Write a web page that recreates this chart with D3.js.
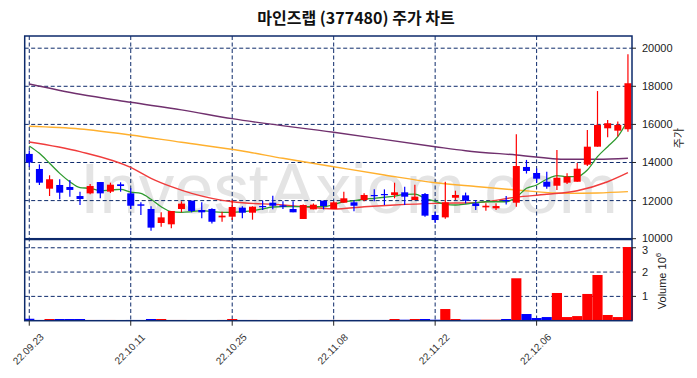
<!DOCTYPE html>
<html>
<head>
<meta charset="utf-8">
<script src="https://cdn.jsdelivr.net/npm/d3@7"></script>
<style>
  body { margin: 0; background: #fff; }
  svg { display: block; }
</style>
</head>
<body>
<div id="chart"></div>
<script>
// Trading days shown (22.09.23 ~ 22.12.19)
const dates = ['22.09.23','22.09.26','22.09.27','22.09.28','22.09.29','22.09.30','22.10.04','22.10.05','22.10.06','22.10.07',
  '22.10.11','22.10.12','22.10.13','22.10.14','22.10.17','22.10.18','22.10.19','22.10.20','22.10.21','22.10.24',
  '22.10.25','22.10.26','22.10.27','22.10.28','22.10.31','22.11.01','22.11.02','22.11.03','22.11.04','22.11.07',
  '22.11.08','22.11.09','22.11.10','22.11.11','22.11.14','22.11.15','22.11.16','22.11.17','22.11.18','22.11.21',
  '22.11.22','22.11.23','22.11.24','22.11.25','22.11.28','22.11.29','22.11.30','22.12.01','22.12.02','22.12.05',
  '22.12.06','22.12.07','22.12.08','22.12.09','22.12.12','22.12.13','22.12.14','22.12.15','22.12.16','22.12.19'];

const open  = [14450,13660,12625,12820,12715,12240,12380,12975,12470,12855,
  12380,11805,11560,10825,10755,11560,11995,11505,11560,11120,
  11155,11630,11365,11715,11890,11750,11560,11035,11540,11995,
  11560,11890,11910,12030,12295,12345,12295,12435,12030,12345,
  11245,11120,12150,12275,11855,11645,11595,12030,11890,13765,
  13450,12990,12780,12940,12990,13885,14830,15795,15670,15745];
const high  = [14620,13900,13330,13120,13080,12470,12870,12975,12940,12960,
  12650,11910,11700,11385,11455,11960,11995,11910,11600,11420,
  12015,11700,11700,11995,12260,11960,11960,11800,11850,11995,
  11960,12470,12030,12380,12590,12590,12940,12730,12835,12400,
  11420,12990,12520,12420,12030,11855,11855,12240,15480,14135,
  13690,13520,14660,13430,13970,15710,17750,16235,16150,19680];
const low   = [13780,12820,12240,12070,12200,11770,12330,12120,12400,12470,
  11560,11245,10420,10630,10545,11385,11385,11070,10800,10890,
  10980,11070,11000,11505,11540,11560,11385,11035,11540,11540,
  11560,11890,11440,11960,11960,11770,12120,11770,12030,11155,
  10820,11050,12030,11850,11505,11470,11500,11800,11680,13420,
  12940,12625,12560,12870,12990,13815,14830,15320,15370,15620];
const close = [14000,12940,13120,12415,12560,12085,12765,12380,12835,12765,
  11730,11730,10580,11120,11455,11840,11455,11385,10890,11210,
  11665,11365,11680,11665,11730,11680,11385,11770,11785,11715,
  11910,12120,11730,12295,12240,12295,12435,12205,12205,11210,
  10980,11910,12295,11995,11715,11730,11715,11980,13815,13555,
  13150,12730,13200,13255,13675,14830,15970,16060,15970,18160];
const volume = [80000,30000,70000,70000,70000,70000,30000,30000,30000,20000,
  30000,30000,70000,70000,30000,30000,20000,20000,20000,30000,
  70000,30000,30000,20000,20000,20000,20000,30000,30000,30000,
  30000,30000,30000,30000,30000,30000,70000,40000,70000,70000,
  40000,480000,70000,40000,40000,40000,40000,70000,1745000,275000,
  110000,150000,1140000,150000,190000,1100000,1880000,235000,150000,3030000];

// moving averages
const ma5 = [14870,14480,13960,13430,12990,12680,12645,12520,12555,12590,
  12450,12380,12070,11680,11420,11385,11420,11470,11420,11385,
  11385,11420,11470,11560,11665,11680,11680,11680,11680,11680,
  11800,11940,11995,12070,12120,12175,12240,12330,12345,12120,
  11960,11805,11770,11820,11890,11940,11940,11940,12175,12645,
  12820,13120,13310,13255,13255,13605,14305,14830,15355,16230];
const ma20Idx = [0, 5, 10, 12, 14, 16, 18, 20, 25, 27, 30, 33, 36, 40, 44, 48, 51, 54, 57, 59];
const ma20 = [15075,14570,13740,13170,12730,12380,12120,11940,11770,11680,11560,11680,11770,11855,11890,12180,12330,12520,12990,13465];
const ma60Idx = [0, 5, 10, 15, 21, 25, 30, 35, 40, 44, 48, 53, 56, 59];
const ma60 = [15900,15760,15445,15060,14605,14220,13780,13345,12940,12740,12555,12380,12400,12470];
const ma120Idx = [0, 5, 10, 15, 20, 30, 40, 43, 48, 53, 56, 59];
const ma120 = [18120,17580,17160,16760,16300,15585,14830,14620,14395,14170,14170,14220];

const priceTicks = [10000, 12000, 14000, 16000, 18000, 20000];
const volTicks = [1, 2, 3];
const dateTickIdx = [0, 10, 20, 30, 40, 50];

const W = 697, H = 378;
const left = 24.7, right = 632;
const pTop = 36, pBottom = 238.7, vTop = 239.5, vBottom = 320.7;
const navy = '#0d2a6b';
const UP = '#ff0000', DOWN = '#0000ff';

const svg = d3.select('#chart').append('svg')
  .attr('width', W).attr('height', H)
  .attr('viewBox', `0 0 ${W} ${H}`);

const x = d3.scaleLinear().domain([-0.45, dates.length - 0.6]).range([left, right]);
const y = d3.scaleLinear().domain([10000, 20640]).range([pBottom, pTop]);
const yv = d3.scaleLinear().domain([0, 3.34e6]).range([vBottom, vTop]);
const step = x(1) - x(0);

// title
svg.append('text')
  .attr('x', 356).attr('y', 23.5)
  .attr('text-anchor', 'middle')
  .style('font-family', '"Noto Sans CJK KR", sans-serif')
  .style('font-size', '16px')
  .style('font-weight', 'bold')
  .style('fill', '#111')
  .text('마인즈랩 (377480) 주가 차트');

// watermark
svg.append('text')
  .attr('x', 80).attr('y', 213)
  .attr('textLength', 538)
  .style('font-family', '"Liberation Sans", Arial, sans-serif')
  .style('font-size', '71px')
  .style('fill', '#e4e4e4')
  .text('InvestAxiom.com');

const grid = svg.append('g')
  .attr('stroke', navy).attr('stroke-width', 1)
  .attr('stroke-dasharray', '4,2.5').attr('fill', 'none');

// vertical grid through both panels
grid.selectAll('.vg').data(dateTickIdx).enter().append('line')
  .attr('x1', d => x(d)).attr('x2', d => x(d))
  .attr('y1', pTop).attr('y2', vBottom);
grid.selectAll('.hg').data(priceTicks).enter().append('line')
  .attr('x1', left).attr('x2', right)
  .attr('y1', d => y(d)).attr('y2', d => y(d));
grid.selectAll('.vhg').data(volTicks).enter().append('line')
  .attr('x1', left).attr('x2', right)
  .attr('y1', d => yv(d * 1e6)).attr('y2', d => yv(d * 1e6));

// moving average lines
const idxLine = d3.line().x(d => x(d[0])).y(d => y(d[1])).curve(d3.curveMonotoneX);
const maSeries = [
  { idx: ma120Idx, vals: ma120, color: '#70306e', w: 1.4 },
  { idx: ma60Idx, vals: ma60, color: '#ffb02e', w: 1.4 },
  { idx: ma20Idx, vals: ma20, color: '#f03c3c', w: 1.4 },
  { idx: d3.range(ma5.length), vals: ma5, color: '#2e9a2e', w: 1.3 }
];
maSeries.forEach(s => {
  svg.append('path')
    .datum(s.idx.map((k, j) => [k, s.vals[j]]))
    .attr('fill', 'none')
    .attr('stroke', s.color)
    .attr('stroke-width', s.w)
    .attr('d', idxLine);
});

// candles
const candles = svg.append('g');
const isUp = i => close[i] >= open[i];
const bodyW = 7;
candles.selectAll('.wick').data(dates).enter().append('line')
  .attr('x1', (d, i) => x(i)).attr('x2', (d, i) => x(i))
  .attr('y1', (d, i) => y(high[i])).attr('y2', (d, i) => y(low[i]))
  .attr('stroke', (d, i) => isUp(i) ? UP : DOWN)
  .attr('stroke-width', 1.2);
candles.selectAll('.body').data(dates).enter().append('rect')
  .attr('x', (d, i) => x(i) - bodyW / 2)
  .attr('width', bodyW)
  .attr('y', (d, i) => y(Math.max(open[i], close[i])))
  .attr('height', (d, i) => Math.max(1.2, Math.abs(y(open[i]) - y(close[i]))))
  .attr('fill', (d, i) => isUp(i) ? UP : DOWN);

// volume bars
svg.append('g').selectAll('rect').data(volume).enter().append('rect')
  .attr('x', (d, i) => x(i) - step / 2)
  .attr('width', step)
  .attr('y', d => yv(d))
  .attr('height', d => vBottom - yv(d))
  .attr('fill', (d, i) => isUp(i) ? UP : DOWN);

// frames
const frame = svg.append('g').attr('fill', 'none').attr('stroke', navy).attr('stroke-width', 1.5);
frame.append('rect').attr('x', left).attr('y', pTop).attr('width', right - left).attr('height', pBottom - pTop);
frame.append('rect').attr('x', left).attr('y', vTop).attr('width', right - left).attr('height', vBottom - vTop);

// right axes
const axisFont = '"Liberation Sans", Arial, sans-serif';
const pAxis = svg.append('g');
pAxis.selectAll('line').data(priceTicks).enter().append('line')
  .attr('x1', right).attr('x2', right + 4)
  .attr('y1', d => y(d)).attr('y2', d => y(d))
  .attr('stroke', '#222');
pAxis.selectAll('text').data(priceTicks).enter().append('text')
  .attr('x', right + 10).attr('y', d => y(d) - (d === 10000 ? 1 : 0))
  .attr('dominant-baseline', 'central')
  .style('font-family', axisFont).style('font-size', '11px').style('fill', '#222')
  .text(d => d);

const vAxis = svg.append('g');
vAxis.selectAll('line').data(volTicks).enter().append('line')
  .attr('x1', right).attr('x2', right + 4)
  .attr('y1', d => yv(d * 1e6)).attr('y2', d => yv(d * 1e6))
  .attr('stroke', '#222');
vAxis.selectAll('text').data(volTicks).enter().append('text')
  .attr('x', right + 10).attr('y', d => yv(d * 1e6) + (d === 3 ? 2 : 0))
  .attr('dominant-baseline', 'central')
  .style('font-family', axisFont).style('font-size', '11px').style('fill', '#222')
  .text(d => d);

svg.append('text')
  .attr('transform', 'translate(683,138) rotate(-90)')
  .attr('text-anchor', 'middle')
  .style('font-family', '"Noto Sans CJK KR", sans-serif')
  .style('font-size', '11px').style('fill', '#222')
  .text('주가');

const vl = svg.append('text')
  .attr('transform', 'translate(666,281) rotate(-90)')
  .attr('text-anchor', 'middle')
  .style('font-family', axisFont)
  .style('font-size', '11px').style('fill', '#222');
vl.append('tspan').text('Volume  10');
vl.append('tspan').attr('dy', -5).style('font-size', '8px').text('6');

// bottom date ticks
const xAxis = svg.append('g');
xAxis.selectAll('line').data(dateTickIdx).enter().append('line')
  .attr('x1', d => x(d)).attr('x2', d => x(d))
  .attr('y1', vBottom).attr('y2', vBottom + 5)
  .attr('stroke', '#222');
xAxis.selectAll('text').data(dateTickIdx).enter().append('text')
  .attr('transform', d => `translate(${x(d) - 1},349) rotate(-45)`)
  .attr('text-anchor', 'middle')
  .attr('dominant-baseline', 'central')
  .style('font-family', axisFont).style('font-size', '10px').style('fill', '#333')
  .text(d => dates[d]);
</script>
</body>
</html>
